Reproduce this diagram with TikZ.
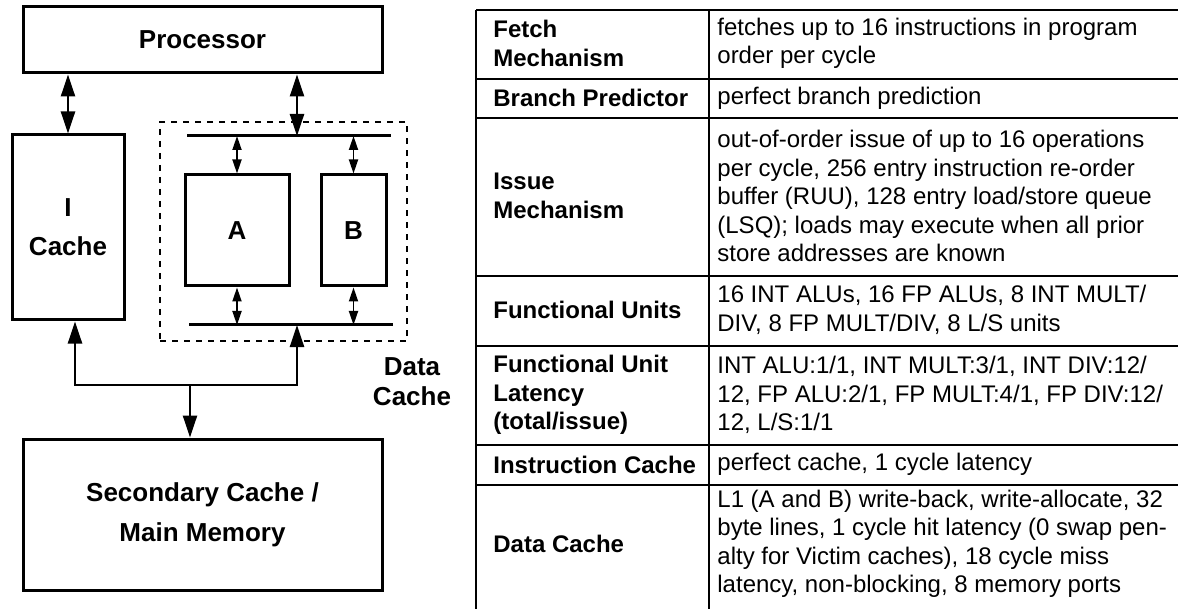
\documentclass[tikz,border=0pt]{standalone}
\usepackage{fontspec}
\setmainfont{Liberation Sans}
\usetikzlibrary{arrows.meta}

\begin{document}
\begin{tikzpicture}[x=0.5pt, y=-0.5pt,
    blk/.style={draw, line width=1.5pt, align=center, inner sep=0pt,
        font=\fontsize{13}{17.5}\selectfont\bfseries},
    bus/.style={line width=1.5pt},
    bigarr/.style={line width=1.2pt, -{Triangle[length=11pt,width=7pt]}},
    bigboth/.style={line width=1.2pt, {Triangle[length=11pt,width=7pt]}-{Triangle[length=11pt,width=7pt]}},
    smallboth/.style={line width=0.9pt, {Triangle[length=7pt,width=4.5pt]}-{Triangle[length=7pt,width=4.5pt]}},
    rule/.style={line width=1.2pt},
    hd/.style={anchor=west, align=left, inner sep=0pt, font=\fontsize{12}{14.25}\selectfont\bfseries},
    txt/.style={anchor=west, align=left, inner sep=0pt, font=\fontsize{12}{14.25}\selectfont}]
    \useasboundingbox (0,0) rectangle (1178,609);

    \node[blk, minimum width=179.5pt, minimum height=33pt] (proc) at (202.5,40) {Processor};
    \node[blk, minimum width=56pt, minimum height=92.5pt] (icache) at (68,227.5) {I\\[2pt]Cache};
    \node[draw, line width=1pt, dash pattern=on 3pt off 3pt, minimum width=123.5pt,
        minimum height=109.5pt, inner sep=0pt] (dcache) at (283.5,231.5) {};
    \node[blk, minimum width=52pt, minimum height=55.5pt] (A) at (237,230.5) {A};
    \node[blk, minimum width=32.5pt, minimum height=55.5pt] (B) at (353.5,230.5) {B};
    \node[blk, minimum width=179.5pt, minimum height=75.5pt] (mem) at (202.5,514.5) {Secondary Cache /\\[2.5pt]Main Memory};
    \node[align=center, font=\fontsize{13}{15}\selectfont\bfseries] (dlabel) at (412,382) {Data\\Cache};

    \coordinate (tbl) at (187,136);
    \coordinate (tbr) at (391,136);
    \coordinate (bbl) at (189,325);
    \coordinate (bbr) at (393,325);
    \coordinate (tb) at (297,136);
    \coordinate (bb) at (297,325);
    \coordinate (j) at (190,385);

    \draw[bus] (tbl) -- (tbr);
    \draw[bus] (bbl) -- (bbr);

    \draw[bigboth] (proc.south -| icache.north) -- (icache.north);
    \draw[bigboth] (proc.south -| tb) -- (tb);
    \draw[smallboth] (A.north |- tb) -- (A.north);
    \draw[smallboth] (B.north |- tb) -- (B.north);
    \draw[smallboth] (A.south) -- (A.south |- bb);
    \draw[smallboth] (B.south) -- (B.south |- bb);
    \draw[bigarr] (j) -| ([xshift=3.5pt]icache.south);
    \draw[bigarr] (j) -| (bb);
    \draw[bigarr] (j) -- (mem.north -| j);

    \foreach \yy in {10,79,118,276,346,445,485}
        \draw[rule] (476,\yy) -- (1178,\yy);
    \draw[rule] (476,10) -- (476,609);
    \draw[rule] (709,10) -- (709,609);

    \node[hd] (fetchH) at (493,43.5) {Fetch\\Mechanism};
    \node[txt] (fetchT) at (717,43.5) {fetches up to 16 instructions in program\\order per cycle};
    \node[hd] (branchH) at (493,98) {Branch Predictor};
    \node[txt] (branchT) at (717,98) {perfect branch prediction};
    \node[hd] (issueH) at (493,196) {Issue\\Mechanism};
    \node[txt] (issueT) at (717,196) {out-of-order issue of up to 16 operations\\per cycle, 256 entry instruction re-order\\buffer (RUU), 128 entry load/store queue\\(LSQ); loads may execute when all prior\\store addresses are known};
    \node[hd] (fuH) at (493,310) {Functional Units};
    \node[txt] (fuT) at (717,310) {16 INT ALUs, 16 FP ALUs, 8 INT MULT/\\DIV, 8 FP MULT/DIV, 8 L/S units};
    \node[hd] (latH) at (493,395) {Functional Unit\\Latency\\(total/issue)};
    \node[txt] (latT) at (717,395) {INT ALU:1/1, INT MULT:3/1, INT DIV:12/\\12, FP ALU:2/1, FP MULT:4/1, FP DIV:12/\\12, L/S:1/1};
    \node[hd] (instH) at (493,464.5) {Instruction Cache};
    \node[txt] (instT) at (717,464.5) {perfect cache, 1 cycle latency};
    \node[hd] (dataH) at (493,544) {Data Cache};
    \node[txt] (dataT) at (717,544) {L1 (A and B) write-back, write-allocate, 32\\byte lines, 1 cycle hit latency (0 swap pen-\\alty for Victim caches), 18 cycle miss\\latency, non-blocking, 8 memory ports};
\end{tikzpicture}
\end{document}
